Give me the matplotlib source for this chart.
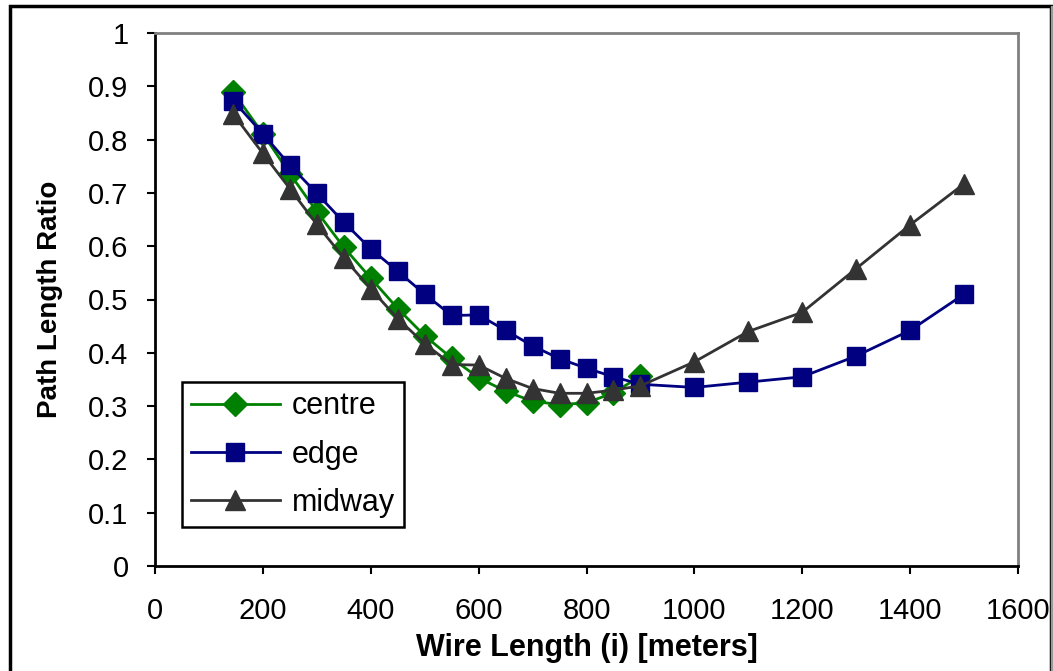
import matplotlib
matplotlib.use("Agg")
from matplotlib import pyplot as plt
from matplotlib.patches import Rectangle

plt.rcParams['font.family'] = ['Liberation Sans', 'DejaVu Sans']

# wire lengths (m) and path length ratios
x_centre = [145, 200, 250, 300, 350, 400, 450, 500, 550, 600, 650, 700, 750, 800, 850, 900]
centre = [0.889, 0.811, 0.736, 0.665, 0.598, 0.540, 0.483, 0.432, 0.390, 0.353, 0.328, 0.309, 0.303, 0.306, 0.325, 0.356]

x_edge = [145, 200, 250, 300, 350, 400, 450, 500, 550, 600, 650, 700, 750, 800, 850, 900,
          1000, 1100, 1200, 1300, 1400, 1500]
edge = [0.873, 0.811, 0.752, 0.699, 0.645, 0.595, 0.553, 0.510, 0.470, 0.471, 0.442, 0.413, 0.389, 0.371, 0.355, 0.341,
        0.335, 0.345, 0.355, 0.394, 0.442, 0.510]

x_mid = [145, 200, 250, 300, 350, 400, 450, 500, 550, 600, 650, 700, 750, 800, 850, 900,
         1000, 1100, 1200, 1300, 1400, 1500]
midway = [0.848, 0.774, 0.708, 0.641, 0.578, 0.520, 0.464, 0.417, 0.378, 0.377, 0.352, 0.333, 0.324, 0.324, 0.330, 0.338,
          0.383, 0.440, 0.476, 0.558, 0.640, 0.717]

fig = plt.figure(figsize=(10.53, 6.71), dpi=100)
ax = fig.add_axes([155/1053, 1 - 566/671, 863/1053, 533/671])

ax.plot(x_centre, centre, color='#008000', lw=2, marker='D', ms=12, label='centre')
ax.plot(x_edge, edge, color='#000080', lw=2, marker='s', ms=12.5, label='edge')
ax.plot(x_mid, midway, color='#333333', lw=2, marker='^', ms=15, label='midway')

ax.set_xlim(0, 1600)
ax.set_ylim(0, 1)
ax.set_xticks(range(0, 1601, 200))
ax.set_yticks([i / 10 for i in range(11)])
ax.set_yticklabels(['0', '0.1', '0.2', '0.3', '0.4', '0.5', '0.6', '0.7', '0.8', '0.9', '1'])
ax.tick_params(axis='x', direction='out', length=6, width=1.5, pad=16, labelsize=21)
ax.tick_params(axis='y', direction='out', length=6, width=1.5, pad=13, labelsize=21)

for s in ['left', 'bottom']:
    ax.spines[s].set_linewidth(2)
    ax.spines[s].set_color('black')
for s in ['top', 'right']:
    ax.spines[s].set_linewidth(2)
    ax.spines[s].set_color('#808080')

ax.set_xlabel('Wire Length (i) [meters]', fontsize=22, fontweight='bold', labelpad=6)
ax.set_ylabel('Path Length Ratio', fontsize=20, fontweight='bold', labelpad=18)

leg = ax.legend(loc='lower left', bbox_to_anchor=(0.031, 0.073), borderaxespad=0,
                fontsize=22, fancybox=False, framealpha=1, edgecolor='black',
                handlelength=2.9, handletextpad=0.4, labelspacing=0.6, borderpad=0.3)
leg.get_frame().set_linewidth(1.8)

# outer chart border
fig.patches.append(Rectangle((10/1053, -0.1), 1041/1053, 1.1 - 6/671, transform=fig.transFigure,
                             fill=False, edgecolor='black', lw=2.5))
fig.patches.append(Rectangle((1051/1053, 0), 0.001, 1 - 6/671, transform=fig.transFigure,
                             fill=False, edgecolor='#999999', lw=1))

fig.savefig('out.png', dpi=100)
